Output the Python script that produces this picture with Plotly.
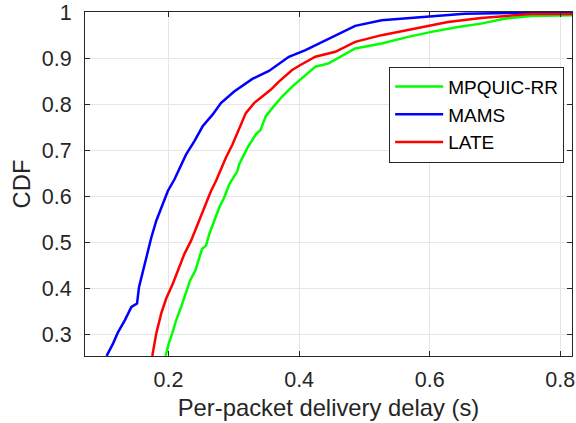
import plotly.graph_objects as go

# MPQUIC-RR (green)
rr_x = [0.1954, 0.2004, 0.2056, 0.2117, 0.2193, 0.2258, 0.2330, 0.2411, 0.2472, 0.2513, 0.2574,
        0.2624, 0.2700, 0.2776, 0.2853, 0.2929, 0.3055, 0.3081, 0.3207, 0.3335, 0.3412, 0.3488,
        0.3588, 0.3740, 0.3893, 0.4097, 0.4250, 0.4452, 0.4859, 0.5264, 0.5671, 0.6026, 0.6432,
        0.6787, 0.7143, 0.7549, 0.8200]
rr_y = [0.2527, 0.2801, 0.3017, 0.3305, 0.3592, 0.3881, 0.4168, 0.4384, 0.4672, 0.4853, 0.4924,
        0.5177, 0.5464, 0.5752, 0.5968, 0.6257, 0.6544, 0.6689, 0.7048, 0.7337, 0.7445, 0.7732,
        0.7911, 0.8164, 0.8380, 0.8633, 0.8812, 0.8883, 0.9207, 0.9315, 0.9460, 0.9568, 0.9676,
        0.9747, 0.9855, 0.9914, 0.9929]

# MAMS (blue)
mams_x = [0.1051, 0.1151, 0.1227, 0.1329, 0.1431, 0.1517, 0.1547, 0.1608, 0.1684, 0.1736, 0.1812,
          0.1904, 0.1989, 0.2091, 0.2269, 0.2396, 0.2522, 0.2674, 0.2802, 0.3005, 0.3284, 0.3538,
          0.3843, 0.4097, 0.4402, 0.4859, 0.5264, 0.6026, 0.6534, 0.7296, 0.7950, 0.8200]
mams_y = [0.2527, 0.2800, 0.3045, 0.3300, 0.3590, 0.3665, 0.4020, 0.4384, 0.4816, 0.5100, 0.5464,
          0.5825, 0.6112, 0.6365, 0.6905, 0.7192, 0.7516, 0.7769, 0.8020, 0.8272, 0.8546, 0.8719,
          0.9028, 0.9173, 0.9389, 0.9698, 0.9820, 0.9910, 0.9963, 0.9980, 1.0000, 1.0000]

# LATE (red)
late_x = [0.1751, 0.1812, 0.1888, 0.1964, 0.2065, 0.2141, 0.2243, 0.2345, 0.2446, 0.2548, 0.2650,
          0.2726, 0.2878, 0.2979, 0.3107, 0.3183, 0.3310, 0.3436, 0.3564, 0.3690, 0.3893, 0.4020,
          0.4249, 0.4554, 0.4859, 0.5264, 0.5773, 0.6280, 0.6787, 0.7296, 0.7549, 0.8200]
late_y = [0.2527, 0.3017, 0.3450, 0.3773, 0.4097, 0.4384, 0.4745, 0.5032, 0.5393, 0.5752, 0.6112,
          0.6328, 0.6832, 0.7121, 0.7553, 0.7803, 0.8020, 0.8164, 0.8309, 0.8488, 0.8741, 0.8849,
          0.9028, 0.9136, 0.9352, 0.9497, 0.9639, 0.9784, 0.9870, 0.9929, 0.9957, 0.9957]

x_ticks = [0.2, 0.4, 0.6, 0.8]
x_tick_labels = ["0.2", "0.4", "0.6", "0.8"]
y_ticks = [0.3, 0.4, 0.5, 0.6, 0.7, 0.8, 0.9, 1.0]
y_tick_labels = ["0.3", "0.4", "0.5", "0.6", "0.7", "0.8", "0.9", "1"]

FONT = "Liberation Sans, Arial, Helvetica, sans-serif"
AX = "#262626"

fig = go.Figure()
fig.add_trace(go.Scatter(x=rr_x, y=rr_y, mode="lines", name="MPQUIC-RR",
                         line=dict(color="#00ff00", width=2.5)))
fig.add_trace(go.Scatter(x=mams_x, y=mams_y, mode="lines", name="MAMS",
                         line=dict(color="#0000ff", width=2.5)))
fig.add_trace(go.Scatter(x=late_x, y=late_y, mode="lines", name="LATE",
                         line=dict(color="#ff0000", width=2.5)))

axis_common = dict(
    showline=True, linecolor=AX, linewidth=1, mirror="ticks",
    ticks="inside", ticklen=5, tickcolor=AX, tickwidth=1,
    showgrid=True, gridcolor="#e6e6e6", gridwidth=1,
    zeroline=False, tickfont=dict(family=FONT, size=21.5, color=AX),
    ticklabeloverflow="allow",
)

fig.update_layout(
    width=576, height=423,
    margin=dict(l=85, r=1, t=10, b=67),
    paper_bgcolor="white", plot_bgcolor="white",
    font=dict(family=FONT, color=AX),
    xaxis=dict(range=[0.072, 0.818], tickvals=x_ticks, ticktext=x_tick_labels,
               ticklabelstandoff=4,
               title=dict(text="Per-packet delivery delay (s)",
                          font=dict(family=FONT, size=23.8, color=AX), standoff=8),
               **axis_common),
    yaxis=dict(range=[0.2525, 1.0], tickvals=y_ticks, ticktext=y_tick_labels,
               ticklabelstandoff=8,
               title=dict(text="CDF", font=dict(family=FONT, size=23.8, color=AX), standoff=4),
               **axis_common),
    legend=dict(x=0.6245, y=0.841, xanchor="left", yanchor="top",
                bgcolor="white", bordercolor=AX, borderwidth=1,
                font=dict(family=FONT, size=19, color="black"),
                tracegroupgap=0, itemwidth=48),
    showlegend=True,
)

fig.write_html("out.html")
